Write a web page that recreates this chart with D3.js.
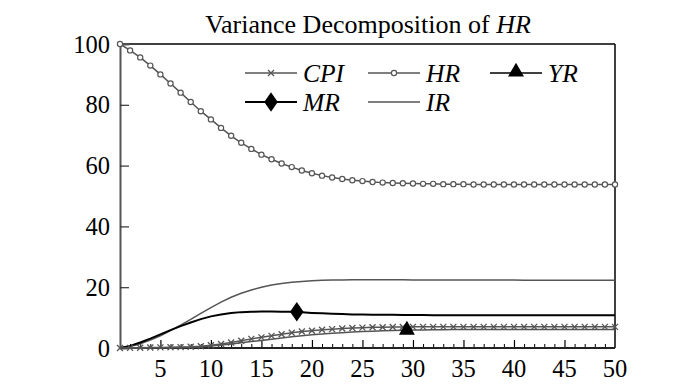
<!DOCTYPE html>
<html><head><meta charset="utf-8">
<script src="https://cdn.jsdelivr.net/npm/d3@7"></script>
<style>body{margin:0;background:#fff}svg{display:block}</style>
</head><body>
<svg id="c" width="700" height="391"></svg>
<script>
const periods = d3.range(1, 51);
const hr = [100,97.9,95.6,92.9,90.0,87.0,84.0,80.9,77.9,75.2,72.4,69.8,67.5,65.5,63.6,62.1,60.7,59.5,58.4,57.5,56.7,56.1,55.6,55.2,54.9,54.6,54.4,54.3,54.2,54.1,54.0,54.0,53.9,53.9,53.9,53.8,53.8,53.8,53.8,53.8,53.8,53.8,53.8,53.8,53.8,53.8,53.8,53.8,53.8,53.8];
const ir = [0,0.5,1.4,2.6,4.0,5.7,7.5,9.4,11.4,13.3,15.1,16.7,18.0,19.1,20.0,20.7,21.2,21.6,21.9,22.1,22.25,22.35,22.4,22.45,22.45,22.45,22.45,22.45,22.45,22.4,22.4,22.4,22.4,22.4,22.4,22.35,22.35,22.35,22.35,22.35,22.3,22.3,22.3,22.3,22.3,22.3,22.3,22.3,22.3,22.3];
const mr = [0,0.7,1.8,3.1,4.5,5.9,7.2,8.4,9.5,10.4,11.0,11.5,11.8,11.9,12.0,12.0,11.95,11.9,11.75,11.55,11.4,11.25,11.15,11.05,11.0,10.95,10.9,10.9,10.85,10.85,10.85,10.8,10.8,10.8,10.8,10.8,10.8,10.8,10.8,10.8,10.8,10.8,10.8,10.8,10.8,10.8,10.8,10.8,10.8,10.8];
const cpi = [0,0.05,0.1,0.15,0.2,0.25,0.3,0.4,0.6,0.9,1.3,1.8,2.4,3.0,3.5,4.0,4.5,5.0,5.4,5.7,6.0,6.2,6.4,6.6,6.7,6.8,6.85,6.9,6.9,6.95,6.95,6.95,6.95,6.95,6.95,6.95,6.95,6.95,6.95,6.95,6.95,6.95,6.95,6.95,6.95,6.95,6.95,6.95,6.95,6.95];
const yr = [0,0,0.02,0.05,0.08,0.12,0.17,0.25,0.4,0.65,0.95,1.3,1.7,2.1,2.5,2.9,3.3,3.7,4.05,4.35,4.6,4.85,5.05,5.25,5.4,5.55,5.65,5.75,5.85,5.9,5.95,6.0,6.0,6.05,6.05,6.05,6.1,6.1,6.1,6.1,6.1,6.1,6.1,6.1,6.1,6.1,6.1,6.1,6.1,6.1];
const mrMarker = [18.5, 11.9];
const yrMarker = [29.4, 5.9];
const yTicks = [0,20,40,60,80,100];
const xTicks = [5,10,15,20,25,30,35,40,45,50];
const title = "Variance Decomposition of ";
const titleItalic = "HR";

const svg = d3.select("#c");
const x = d3.scaleLinear().domain([1,50]).range([120,615]);
const y = d3.scaleLinear().domain([0,100]).range([348,44]);
const serif = "'Liberation Serif','Times New Roman',serif";

// title
const t = svg.append("text").attr("x",368).attr("y",33).attr("text-anchor","middle")
  .attr("font-family",serif).attr("font-size",26).attr("fill","#000");
t.append("tspan").text(title);
t.append("tspan").attr("font-style","italic").text(titleItalic);

// frame top/right
svg.append("line").attr("x1",x(1)).attr("x2",x(50)).attr("y1",y(100)).attr("y2",y(100)).attr("stroke","#000").attr("stroke-width",1.5);
svg.append("line").attr("x1",x(50)).attr("x2",x(50)).attr("y1",y(100)).attr("y2",y(0)).attr("stroke","#000").attr("stroke-width",1.5);

// y axis
const yAxis = svg.append("g").attr("transform",`translate(${x(1)},0)`)
  .call(d3.axisRight(y).tickValues(yTicks).tickSize(9).tickFormat(""));
yAxis.select(".domain").attr("stroke","#555").attr("stroke-width",2);
yAxis.selectAll(".tick line").attr("stroke","#333").attr("stroke-width",1.2);
yAxis.selectAll(".tick").filter(d=>d===0||d===100).select("line").remove();
svg.selectAll(".ylab").data(yTicks).join("text").attr("class","ylab")
  .attr("x",110).attr("y",d=>y(d)).attr("dy","0.35em").attr("text-anchor","end")
  .attr("font-family",serif).attr("font-size",24.5).attr("fill","#000").text(d=>d);

// x axis minor & major ticks
const xMinor = svg.append("g").attr("transform",`translate(0,${y(0)})`)
  .call(d3.axisTop(x).tickValues(d3.range(2,50).filter(d=>d%5!==0)).tickSize(4).tickFormat(""));
xMinor.select(".domain").remove();
xMinor.selectAll(".tick line").attr("stroke","#000").attr("stroke-width",1);
const xMajor = svg.append("g").attr("transform",`translate(0,${y(0)})`)
  .call(d3.axisTop(x).tickValues(xTicks.filter(d=>d<50)).tickSize(8).tickFormat(""));
xMajor.select(".domain").remove();
xMajor.selectAll(".tick line").attr("stroke","#000").attr("stroke-width",1.2);
svg.append("line").attr("x1",x(1)).attr("x2",x(50)).attr("y1",y(0)).attr("y2",y(0)).attr("stroke","#222").attr("stroke-width",2);
svg.selectAll(".xlab").data(xTicks).join("text").attr("class","xlab")
  .attr("x",d=>x(d)).attr("y",377).attr("text-anchor","middle")
  .attr("font-family",serif).attr("font-size",24.5).attr("fill","#000").text(d=>d);

const line = vals => d3.line().x((d,i)=>x(periods[i])).y(d=>y(d))(vals);

// series
svg.append("path").attr("d",line(yr)).attr("fill","none").attr("stroke","#555").attr("stroke-width",1.5);
svg.append("path").attr("d",line(ir)).attr("fill","none").attr("stroke","#555").attr("stroke-width",1.5);
svg.append("path").attr("d",line(mr)).attr("fill","none").attr("stroke","#000").attr("stroke-width",2);
svg.append("path").attr("d",line(cpi)).attr("fill","none").attr("stroke","#555").attr("stroke-width",1.5);
svg.append("path").attr("d",line(hr)).attr("fill","none").attr("stroke","#555").attr("stroke-width",1.5);

function xMark(g, cx, cy, s){
  g.append("path").attr("d",`M${cx-s},${cy-s}L${cx+s},${cy+s}M${cx-s},${cy+s}L${cx+s},${cy-s}`)
   .attr("stroke","#555").attr("stroke-width",1.3).attr("fill","none");
}
const cg = svg.append("g");
cpi.forEach((v,i)=>xMark(cg, x(periods[i]), y(v), 3));
svg.selectAll(".hrc").data(hr).join("circle").attr("class","hrc")
  .attr("cx",(d,i)=>x(periods[i])).attr("cy",d=>y(d)).attr("r",2.6)
  .attr("fill","#fff").attr("stroke","#555").attr("stroke-width",1.2);

const diamond = d3.symbol().type(d3.symbolDiamond).size(110);
const triangle = d3.symbol().type(d3.symbolTriangle).size(110);
svg.append("path").attr("d",diamond()).attr("transform",`translate(${x(mrMarker[0])},${y(mrMarker[1])}) scale(1.2,1)`).attr("fill","#000");
svg.append("path").attr("d",triangle()).attr("transform",`translate(${x(yrMarker[0])},${y(yrMarker[1])})`).attr("fill","#000");

// legend
const legend = [
  {name:"CPI", col:0, row:0, stroke:"#555", w:1.5, mark:"x"},
  {name:"HR", col:1, row:0, stroke:"#555", w:1.5, mark:"o"},
  {name:"YR", col:2, row:0, stroke:"#000", w:1.5, mark:"tri"},
  {name:"MR", col:0, row:1, stroke:"#000", w:2, mark:"dia"},
  {name:"IR", col:1, row:1, stroke:"#555", w:1.5, mark:""}
];
const colX = [245,368,490], rowY = [73,102];
legend.forEach(l=>{
  const x0 = colX[l.col], yy = rowY[l.row];
  svg.append("line").attr("x1",x0).attr("x2",x0+52).attr("y1",yy).attr("y2",yy).attr("stroke",l.stroke).attr("stroke-width",l.w);
  const mx = x0+26;
  if(l.mark==="x") xMark(svg, mx, yy, 3);
  if(l.mark==="o") svg.append("circle").attr("cx",mx).attr("cy",yy).attr("r",2.6).attr("fill","#fff").attr("stroke","#555").attr("stroke-width",1.2);
  if(l.mark==="tri") svg.append("path").attr("d",triangle()).attr("transform",`translate(${mx},${yy-1})`).attr("fill","#000");
  if(l.mark==="dia") svg.append("path").attr("d",diamond()).attr("transform",`translate(${mx},${yy}) scale(1.2,1)`).attr("fill","#000");
  svg.append("text").attr("x",x0+58).attr("y",yy).attr("dy","0.35em")
    .attr("font-family",serif).attr("font-style","italic").attr("font-size",25.5).attr("fill","#000").text(l.name);
});
</script>
</body></html>
